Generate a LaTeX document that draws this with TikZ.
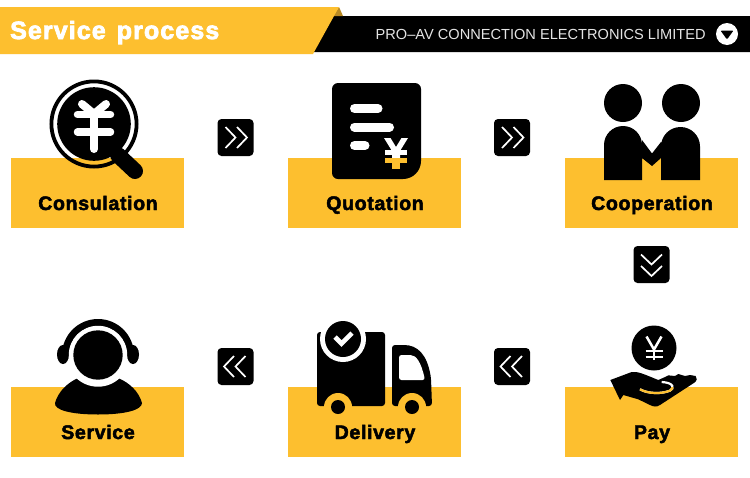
\documentclass[tikz,border=0pt]{standalone}
\usepackage{fontspec}
\setmainfont{Liberation Sans}
\newfontfamily\heavyfont[FakeBold=2.4,LetterSpace=3.2]{Liberation Sans Bold}
\newfontfamily\titlefont[FakeBold=3,LetterSpace=4.4]{Liberation Sans Bold}
\definecolor{brand}{HTML}{FDBF2F}
\definecolor{tipdark}{HTML}{B98A24}
\definecolor{bandtext}{HTML}{E4E4E4}
\tikzset{
  panel/.style={fill=brand,draw=none,inner sep=0pt,minimum width=173pt,minimum height=70pt},
  steplabel/.style={font=\heavyfont\fontsize{19.6}{19.6}\selectfont,text=black,inner sep=0pt,anchor=base},
  arrowbox/.style={fill=black,draw=none,rounded corners=4pt,inner sep=0pt,minimum width=36pt,minimum height=37pt},
  chev/.style={draw=white,line width=1.7pt,fill=none,miter limit=10}
}
\newcommand{\chevrons}[2]{% centre node, rotation
  \begin{scope}[shift={(#1)},rotate=#2]
    \draw[chev] (-10,-10.5) -- (0,0) -- (-10,10.5);
    \draw[chev] (1.5,-10.5) -- (11.5,0) -- (1.5,10.5);
  \end{scope}}
\begin{document}
\begin{tikzpicture}[x=1pt,y=-1pt]
\useasboundingbox (0,0) rectangle (750,477);
\fill[white] (0,0) rectangle (750,477);
% header
\fill[black] (330,16) -- (750,16) -- (750,52) -- (313,52) -- cycle;
\fill[tipdark] (339,7) -- (343,16) -- (333,16) -- cycle;
\fill[brand] (0,7) -- (339,7) -- (313,54) -- (0,54) -- cycle;
\node[anchor=base west,inner sep=0pt,text=white,font=\titlefont\fontsize{25}{25}\selectfont] (title) at (10,39) {Service\hspace{3pt} process};
\node[anchor=base west,inner sep=0pt,text=bandtext,font=\fontsize{14.6}{14.6}\selectfont] (company) at (375.5,39) {PRO–AV CONNECTION ELECTRONICS LIMITED};
\fill[white] (727,34) circle (11);
\fill[black] (720.5,30.5) [rounded corners=1pt] -- (733.5,30.5) -- (727,39.5) -- cycle;
% panels
\node[panel] (p1) at (97.5,193) {};
\node[panel] (p2) at (374.5,193) {};
\node[panel] (p3) at (651.5,193) {};
\node[panel] (p4) at (97.5,422) {};
\node[panel] (p5) at (374.5,422) {};
\node[panel] (p6) at (651.5,422) {};
% arrow boxes
\node[arrowbox] (a1) at (235.5,137.5) {};
\node[arrowbox] (a2) at (512,137.5) {};
\node[arrowbox] (a3) at (651.5,264.5) {};
\node[arrowbox] (a4) at (235.5,366.5) {};
\node[arrowbox] (a5) at (512,366.5) {};
\chevrons{a1}{0}
\chevrons{a2}{0}
\chevrons{a3}{-90}
\chevrons{a4}{180}
\chevrons{a5}{180}
% magnifier
\fill[black] (94,124) circle (36.8);
\draw[black,line width=3.8pt] (94,124) circle (42.6);
\draw[black,line width=16pt,line cap=round] (118,155) -- (135,171);
\begin{scope}[white,line cap=round]
  \draw[line width=8pt] (94,115) -- (94,149);
  \draw[line width=7.5pt] (77.5,114.5) -- (110.5,114.5);
  \draw[line width=7.5pt] (77.5,132) -- (110.5,132);
  \draw[line width=8pt] (82,104) -- (94,114) -- (106,104);
\end{scope}
% quotation sheet
\fill[black,rounded corners=6pt] (332,83) -- (421,83) -- (421,150) [rounded corners=18pt] -- (421,179) [rounded corners=6pt] -- (332,179) -- cycle;
\begin{scope}[white,line width=9pt,line cap=round]
  \draw (354.5,108.5) -- (378,108.5);
  \draw (354.5,127) -- (389.5,127);
  \draw (354.5,145.5) -- (365,145.5);
\end{scope}
\begin{scope}
  \clip (380,130) rectangle (412,158);
  \fill[white] (384,138) -- (390.5,138) -- (396,147) -- (401.5,138) -- (408,138) -- (400,151) -- (400,169) -- (392,169) -- (392,151) -- cycle;
  \fill[white] (385,150) rectangle (407,155);
\end{scope}
\begin{scope}
  \clip (380,158) rectangle (412,172);
  \fill[brand] (392,150) rectangle (400,169);
  \fill[brand] (385,158) rectangle (407,163);
\end{scope}
% cooperation
\fill[black] (623,103) circle (19);
\fill[black] (681,103) circle (19);
\fill[black] (604,180) -- (604,145) arc[start angle=180,end angle=360,radius=19] -- (642,140) -- (652,153.5) -- (661,142) -- (661,146.5) arc[start angle=180,end angle=360,radius=19.5] -- (700,180) -- (661,180) -- (661,158) -- (652,166) -- (642,158) -- (642,180) -- cycle;
% service
\fill[black] (55,403) .. controls (58,392) and (67,383) .. (78,378) -- (118,378) .. controls (130,383) and (139,392) .. (142,403) .. controls (142,410) and (125,414.5) .. (98,414.5) .. controls (71,414.5) and (54,410) .. (55,403) -- cycle;
\fill[white] (98,355) circle (31.7);
\begin{scope}
  \clip (50,310) rectangle (146,352);
  \draw[black,line width=7pt] (98,355) circle (32.5);
\end{scope}
\fill[black] (63,354.5) ellipse (6 and 9.5);
\fill[black] (133,354.5) ellipse (6 and 9.5);
\fill[white] (98,355) circle (29.2);
\fill[black] (98,355) circle (24.7);
% delivery truck
\fill[black,rounded corners=3pt] (317,332) -- (385,332) -- (385,406) -- (317,406) -- cycle;
\fill[black,rounded corners=3pt] (392,345) -- (401,345) .. controls (418,345) and (427,355) .. (431,378) -- (432,406) -- (392,406) -- cycle;
\fill[white,rounded corners=2.5pt] (399,355) -- (408,355) .. controls (416,355) and (421,362) .. (425,380) -- (399,380) -- cycle;
\fill[white] (343,339) circle (23);
\fill[black] (343,339) circle (18);
\draw[white,line width=4.6pt] (335,337) -- (341.5,343.5) -- (352,333);
\fill[brand] (338,407) circle (14);
\fill[brand] (412,407) circle (14);
\fill[black] (338,407) circle (7);
\fill[black] (412,407) circle (7);
% pay
\fill[black] (654,348) circle (22.5);
\begin{scope}[white,line width=2.5pt]
  \draw (646.5,336.5) -- (654,349.5) -- (661.5,336.5);
  \draw (654,349.5) -- (654,360);
  \draw (645.5,351) -- (662.5,351);
  \draw (645.5,357) -- (662.5,357);
\end{scope}
\begin{scope}[shift={(375,240)},scale=1/3]
  \fill[black,line join=round] (706,420) -- (770,396) .. controls (790,394) and (805,402) .. (850,420) -- (868,412) -- (880,406) -- (900,408) -- (910,402) -- (930,408) -- (945,405) -- (962,408) .. controls (968,414) and (966,422) .. (958,428) -- (855,495) .. controls (845,502) and (835,500) .. (825,495) -- (790,478) -- (745,465) -- (735,480) -- cycle;
  \draw[white,line width=2.2pt] (795,448) .. controls (820,462) and (860,462) .. (885,452) .. controls (898,445) and (898,428) .. (860,426);
  \begin{scope}
    \clip (700,441) rectangle (980,510);
    \draw[brand,line width=2.2pt] (795,448) .. controls (820,462) and (860,462) .. (885,452) .. controls (898,445) and (898,428) .. (860,426);
  \end{scope}
\end{scope}
% labels
\node[steplabel] (l1) at (98,210) {Consulation};
\node[steplabel] (l2) at (375,210) {Quotation};
\node[steplabel] (l3) at (652,210) {Cooperation};
\node[steplabel] (l4) at (98,439) {Service};
\node[steplabel] (l5) at (375,439) {Delivery};
\node[steplabel] (l6) at (652,439) {Pay};
\end{tikzpicture}
\end{document}
